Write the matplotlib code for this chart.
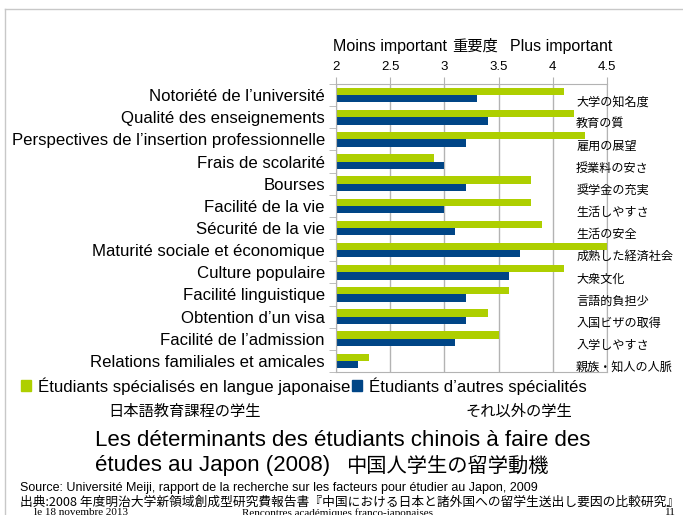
import numpy as np
import matplotlib.pyplot as plt
from matplotlib.patches import Patch
from matplotlib.lines import Line2D

plt.rcParams['font.family'] = ['Liberation Sans', 'Noto Sans CJK JP', 'DejaVu Sans']

# data
labels_fr = ["Notoriété de l\u2019université", "Qualité des enseignements",
             "Perspectives de l\u2019insertion professionnelle", "Frais de scolarité",
             "Bourses", "Facilité de la vie", "Sécurité de la vie",
             "Maturité sociale et économique", "Culture populaire",
             "Facilité linguistique", "Obtention d\u2019un visa",
             "Facilité de l\u2019admission", "Relations familiales et amicales"]
labels_jp = ["大学の知名度", "教育の質", "雇用の展望", "授業料の安さ", "奨学金の充実",
             "生活しやすさ", "生活の安全", "成熟した経済社会", "大衆文化",
             "言語的負担少", "入国ビザの取得", "入学しやすさ", "親族・知人の人脈"]
langue_jp = [4.1, 4.2, 4.3, 2.9, 3.8, 3.8, 3.9, 4.5, 4.1, 3.6, 3.4, 3.5, 2.3]
autres = [3.3, 3.4, 3.2, 3.0, 3.2, 3.0, 3.1, 3.7, 3.6, 3.2, 3.2, 3.1, 2.2]
xticks = [2, 2.5, 3, 3.5, 4, 4.5]

green = "#aecf00"
blue = "#004586"
grey = "#b3b3b3"

W, H = 683, 515
fig = plt.figure(figsize=(W / 100, H / 100), dpi=100)


def fx(px):
    return px / W


def fy(py):
    return 1 - py / H


ax = fig.add_axes([fx(336), fy(372), fx(607) - fx(336), fy(84) - fy(372)])

y = np.arange(len(labels_fr))
h = 0.33
ax.barh(y - h / 2, np.array(langue_jp) - 2, left=2, height=h, color=green)
ax.barh(y + h / 2, np.array(autres) - 2, left=2, height=h, color=blue)

ax.set_xlim(2, 4.5)
ax.set_ylim(len(labels_fr) - 0.5, -0.5)
ax.xaxis.tick_top()
ax.set_xticks(xticks)
ax.set_xticklabels([f"{t:g}" for t in xticks], fontsize=9.5)
ax.tick_params(axis='x', length=5, color=grey, pad=3)
ax.grid(axis='x', color=grey, lw=1)
ax.set_axisbelow(True)
for s in ax.spines.values():
    s.set_color(grey)

ax.set_yticks(y)
ax.set_yticklabels(labels_fr, fontsize=12.1)
ax.tick_params(axis='y', length=0, pad=8)
ax.set_yticks(np.arange(len(labels_fr) + 1) - 0.5, minor=True)
ax.tick_params(axis='y', which='minor', length=5, color=grey)

for i, t in enumerate(labels_jp):
    ax.text(0.886, i + 0.3, t, transform=ax.get_yaxis_transform(),
            fontsize=8.7, family=['Noto Sans CJK JP'], va='center', ha='left',
            clip_on=False)

# axis caption
fig.text(fx(333), fy(46), "Moins important", fontsize=11.5, va='center')
fig.text(fx(452), fy(46), "重要度", fontsize=11, va='center', family=['Noto Sans CJK JP'])
fig.text(fx(510), fy(46), "Plus important", fontsize=11.5, va='center')

# legend
handles = [Patch(color=green), Patch(color=blue)]
fig.legend(handles, ["Étudiants spécialisés en langue japonaise",
                     "Étudiants d\u2019autres spécialités"],
           loc='center left', bbox_to_anchor=(fx(21), fy(386)), ncol=2,
           frameon=False, fontsize=12.1, handlelength=0.6, handleheight=0.6,
           handletextpad=0.4, columnspacing=0.1, borderpad=0, borderaxespad=0)
fig.text(fx(185), fy(411), "日本語教育課程の学生", fontsize=11, ha='center', va='center',
         family=['Noto Sans CJK JP'])
fig.text(fx(519), fy(411), "それ以外の学生", fontsize=11, ha='center', va='center',
         family=['Noto Sans CJK JP'])

# title
fig.text(fx(95), fy(440), "Les déterminants des étudiants chinois à faire des",
         fontsize=16, va='center')
fig.text(fx(95), fy(466), "études au Japon (2008)", fontsize=16, va='center')
fig.text(fx(346), fy(466), "中国人学生の留学動機", fontsize=14.6, va='center',
         family=['Noto Sans CJK JP'])

# source
fig.text(fx(20), fy(488), "Source: Université Meiji, rapport de la recherche sur les "
         "facteurs pour étudier au Japon, 2009", fontsize=9, va='center')
fig.text(fx(20), fy(502), "出典:2008 年度明治大学新領域創成型研究費報告書『中国における"
         "日本と諸外国への留学生送出し要因の比較研究』", fontsize=9.15, va='center',
         family=['Noto Sans CJK JP', 'Liberation Sans'])

# footer (cut off by the page edge, as on the slide)
fig.text(fx(34), fy(508), "le 18 novembre 2013", fontsize=8, va='top',
         family=['Liberation Serif'])
fig.text(fx(242), fy(508), "Rencontres académiques franco-japonaises", fontsize=8,
         va='top', family=['Liberation Serif'])
fig.text(fx(665), fy(508), "11", fontsize=8, va='top', family=['Liberation Serif'])

# slide frame
fig.add_artist(Line2D([fx(5), fx(5)], [fy(9), 0], color="#c8c8c8", lw=1))
fig.add_artist(Line2D([fx(5), 1], [fy(9), fy(9)], color="#c8c8c8", lw=1))

fig.savefig("out.png", dpi=100)
